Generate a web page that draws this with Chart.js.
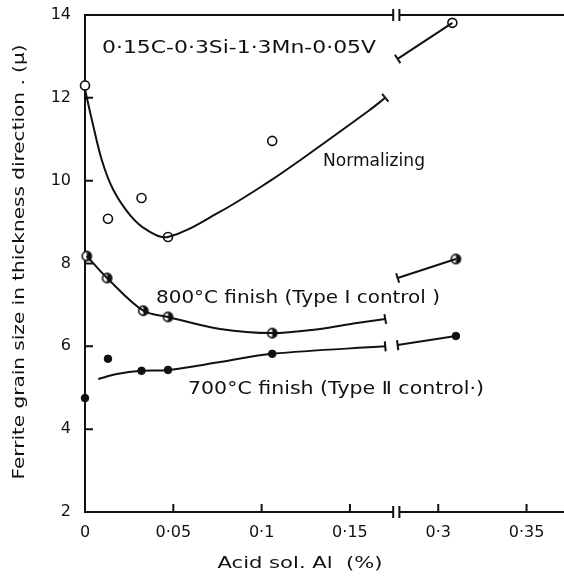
<!DOCTYPE html>
<html>
<head>
<meta charset="utf-8">
<script src="https://cdn.jsdelivr.net/npm/chart.js"></script>
<style>
  html, body { margin: 0; padding: 0; background: #fff; }
</style>
</head>
<body>
<canvas id="chart" width="564" height="577"></canvas>
<script>
// Acid sol. Al (%) axis; values past the break (0.3, 0.35) sit 0.1 to the left
const xTicks = [0, 0.05, 0.1, 0.15, 0.3, 0.35];
const xTickLabels = ['0', '0·05', '0·1', '0·15', '0·3', '0·35'];
const yTicks = [2, 4, 6, 8, 10, 12, 14];

// Normalizing (open circles)
const normX = [0, 0.013, 0.032, 0.047, 0.106, 0.308];
const normY = [12.3, 9.08, 9.58, 8.64, 10.96, 13.81];
const normCurveX = [0, 0.004, 0.0095, 0.016, 0.0255, 0.035, 0.047, 0.0765, 0.105, 0.122, 0.161, 0.17];
const normCurveY = [12.2, 11.45, 10.5, 9.78, 9.17, 8.81, 8.64, 9.25, 10.0, 10.5, 11.7, 12.0];
const normTailX = [0.277, 0.308];
const normTailY = [12.94, 13.81];

// 800°C finish, Type I control (half filled)
const type1X = [0.001, 0.0125, 0.033, 0.047, 0.106, 0.31];
const type1Y = [8.18, 7.65, 6.86, 6.71, 6.32, 8.11];
const type1CurveX = [0.001, 0.0125, 0.033, 0.047, 0.0765, 0.106, 0.133, 0.152, 0.17];
const type1CurveY = [8.18, 7.65, 6.86, 6.71, 6.42, 6.32, 6.42, 6.55, 6.66];
const type1TailX = [0.277, 0.31];
const type1TailY = [7.65, 8.11];

// 700°C finish, Type II control (filled)
const type2X = [0, 0.013, 0.032, 0.047, 0.106, 0.31];
const type2Y = [4.75, 5.70, 5.41, 5.43, 5.82, 6.25];
const type2CurveX = [0.0075, 0.018, 0.032, 0.047, 0.0765, 0.106, 0.17];
const type2CurveY = [5.21, 5.33, 5.41, 5.43, 5.62, 5.82, 6.0];
const type2TailX = [0.277, 0.31];
const type2TailY = [6.03, 6.25];

const axisX = v => (v >= 0.25 ? v - 0.1 : v);
const pts = (xs, ys) => xs.map((x, i) => ({ x: axisX(x), y: ys[i] }));

const INK = '#111';

// half filled marker
function halfDot() {
  const c = document.createElement('canvas');
  c.width = 13; c.height = 13;
  const g = c.getContext('2d');
  g.beginPath(); g.arc(6.5, 6.5, 4.6, 0, Math.PI * 2);
  g.fillStyle = '#fff'; g.fill();
  g.beginPath(); g.arc(6.5, 6.5, 4.6, -Math.PI / 2, Math.PI / 2);
  g.fillStyle = INK; g.fill();
  g.beginPath(); g.arc(6.5, 6.5, 4.6, 0, Math.PI * 2);
  g.lineWidth = 1.6; g.strokeStyle = INK; g.stroke();
  return c;
}

// line with end caps (pointStyle 'line') at the chosen ends
function curve(data, capStart, capEnd, rotStart, rotEnd) {
  const n = data.length;
  return {
    type: 'line',
    data: data,
    borderColor: INK,
    borderWidth: 2,
    tension: 0.35,
    fill: false,
    clip: false,
    pointStyle: 'line',
    pointBorderColor: INK,
    pointBorderWidth: 2,
    pointRadius: data.map((_, i) => (i === 0 && capStart) || (i === n - 1 && capEnd) ? 5 : 0),
    rotation: data.map((_, i) => (i === 0 ? rotStart : rotEnd)),
    pointHoverRadius: 0
  };
}

function markers(data, style) {
  return Object.assign({
    type: 'scatter',
    data: data,
    showLine: false,
    clip: false,
    pointHoverRadius: 0
  }, style);
}

// text stretched to the width it has in the figure
function stretchText(ctx, text, x, y, width, align) {
  const w = ctx.measureText(text).width;
  ctx.save();
  ctx.translate(align === 'center' ? x - width / 2 : x, y);
  ctx.scale(width / w, 1);
  ctx.textAlign = 'left';
  ctx.fillText(text, 0, 0);
  ctx.restore();
}

const frame = {
  id: 'frame',
  beforeDatasetsDraw(chart) {
    const { ctx, chartArea: a, scales: { x, y } } = chart;
    const b1 = x.getPixelForValue(0.1745), b2 = x.getPixelForValue(0.178);
    ctx.save();
    ctx.strokeStyle = INK;
    ctx.lineWidth = 2;
    ctx.beginPath();
    ctx.moveTo(a.left, a.top); ctx.lineTo(a.left, a.bottom);
    ctx.moveTo(a.left - 1, a.bottom); ctx.lineTo(b1, a.bottom);
    ctx.moveTo(b2, a.bottom); ctx.lineTo(a.right, a.bottom);
    ctx.moveTo(a.left - 1, a.top); ctx.lineTo(b1, a.top);
    ctx.moveTo(b2, a.top); ctx.lineTo(a.right, a.top);
    [b1, b2].forEach(bx => {
      ctx.moveTo(bx, a.bottom - 6); ctx.lineTo(bx, a.bottom + 6);
      ctx.moveTo(bx, a.top - 6); ctx.lineTo(bx, a.top + 6);
    });
    xTicks.slice(1).forEach(v => {
      const px = x.getPixelForValue(axisX(v));
      ctx.moveTo(px, a.bottom); ctx.lineTo(px, a.bottom - 8);
    });
    yTicks.slice(1, -1).forEach(v => {
      const py = y.getPixelForValue(v);
      ctx.moveTo(a.left, py); ctx.lineTo(a.left + 8, py);
    });
    ctx.stroke();
    ctx.restore();
  },
  afterDraw(chart) {
    const ctx = chart.ctx;
    ctx.save();
    ctx.fillStyle = INK;
    ctx.textBaseline = 'middle';
    ctx.font = '17px "DejaVu Sans"';
    stretchText(ctx, '0·15C-0·3Si-1·3Mn-0·05V', 102, 49, 274);
    stretchText(ctx, 'Normalizing', 323, 162, 102);
    stretchText(ctx, '800°C finish (Type I control )', 156, 299, 284);
    stretchText(ctx, '700°C finish (Type \u2161 control·)', 188, 390, 296);
    ctx.font = '16px "DejaVu Sans"';
    stretchText(ctx, 'Acid sol. Al  (%)', 300, 564, 165, 'center');
    ctx.translate(20, 262);
    ctx.rotate(-Math.PI / 2);
    stretchText(ctx, 'Ferrite grain size in thickness direction . (\u03bc)', 0, 0, 435, 'center');
    ctx.restore();
  }
};

new Chart(document.getElementById('chart'), {
  type: 'scatter',
  data: {
    datasets: [
      curve(pts(normCurveX, normCurveY), false, true, 0, 51),
      curve(pts(normTailX, normTailY), true, false, 57, 0),
      curve(pts(type1CurveX, type1CurveY), false, true, 0, 80),
      curve(pts(type1TailX, type1TailY), true, false, 72, 0),
      curve(pts(type2CurveX, type2CurveY), false, true, 0, 85),
      curve(pts(type2TailX, type2TailY), true, false, 83, 0),
      markers(pts(normX, normY), {
        pointStyle: 'circle', pointRadius: 4.5,
        pointBackgroundColor: '#fff', pointBorderColor: INK, pointBorderWidth: 1.6
      }),
      markers(pts(type1X, type1Y), { pointStyle: halfDot() }),
      markers(pts(type2X, type2Y), {
        pointStyle: 'circle', pointRadius: 3.8,
        pointBackgroundColor: INK, pointBorderColor: INK, pointBorderWidth: 1
      })
    ]
  },
  options: {
    responsive: false,
    animation: false,
    devicePixelRatio: 1,
    layout: { autoPadding: false, padding: { top: 15, right: 0, left: 0, bottom: 0 } },
    plugins: { legend: { display: false }, tooltip: { enabled: false } },
    scales: {
      x: {
        type: 'linear',
        min: 0,
        max: 0.2712,
        afterBuildTicks: s => { s.ticks = xTicks.map(v => ({ value: axisX(v) })); },
        afterFit: s => { s.height = 65; s.paddingLeft = 0; s.paddingRight = 0; },
        ticks: {
          callback: (v, i) => xTickLabels[i],
          font: { family: 'DejaVu Sans', size: 16 },
          color: INK,
          padding: 3,
          maxRotation: 0,
          autoSkip: false
        },
        grid: { display: false },
        border: { display: false }
      },
      y: {
        type: 'linear',
        min: 2,
        max: 14,
        afterBuildTicks: s => { s.ticks = yTicks.map(v => ({ value: v })); },
        afterFit: s => { s.width = 85; s.paddingTop = 0; s.paddingBottom = 0; },
        ticks: {
          font: { family: 'DejaVu Sans', size: 16 },
          color: INK,
          padding: 6
        },
        grid: { display: false },
        border: { display: false }
      }
    }
  },
  plugins: [frame]
});
</script>
</body>
</html>
